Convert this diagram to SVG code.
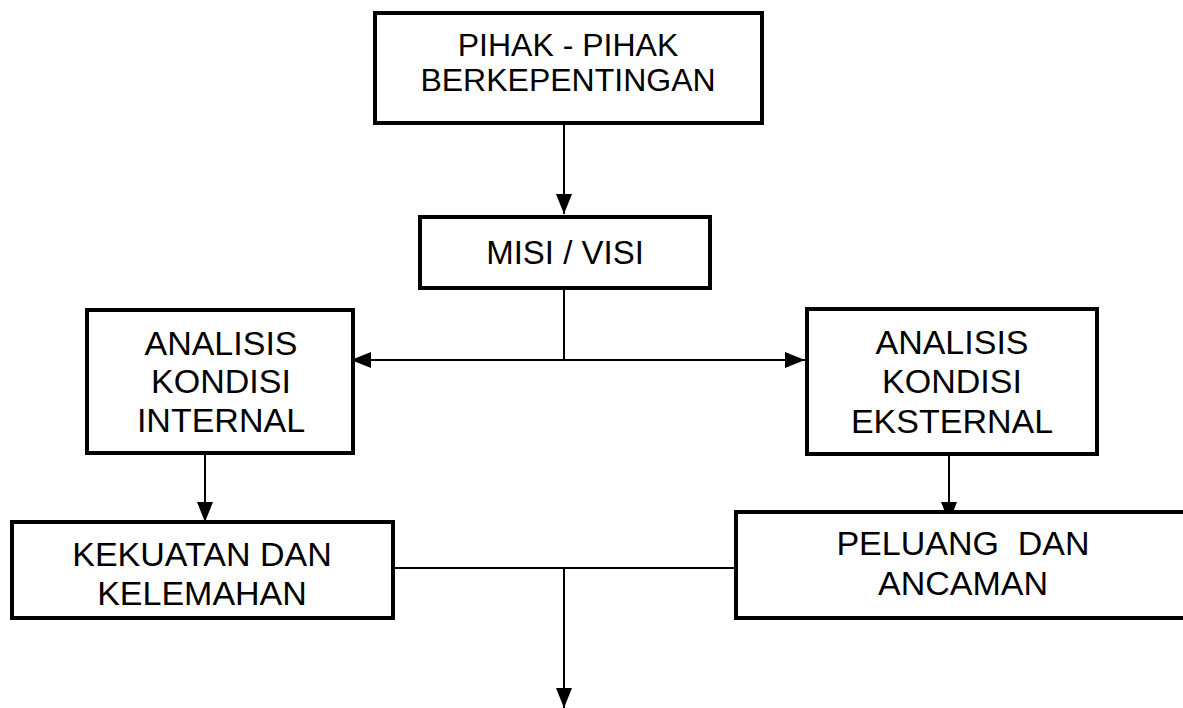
<svg xmlns="http://www.w3.org/2000/svg" width="1183" height="708" viewBox="0 0 1183 708">
<defs>
<style>
.box{fill:#fff;stroke:#000;stroke-width:4}
.t{font-family:"Liberation Sans",Arial,sans-serif;font-size:34px;fill:#000;text-anchor:middle}
.t32{font-size:32px}
.t33{font-size:33px}
.c{stroke:#000;stroke-width:2;fill:none}
</style>
<marker id="ah" viewBox="0 0 20 16" refX="20" refY="8" markerWidth="20" markerHeight="16" markerUnits="userSpaceOnUse" orient="auto">
<path d="M0,0 L20,8 L0,16 Z" fill="#000"/>
</marker>
</defs>
<rect width="1183" height="708" fill="#fff"/>
<g id="connectors">
<line class="c" x1="564" y1="123" x2="564" y2="214" marker-end="url(#ah)"/>
<line class="c" x1="564" y1="290" x2="564" y2="360"/>
<line class="c" x1="564" y1="360" x2="351" y2="360" marker-end="url(#ah)"/>
<line class="c" x1="564" y1="360" x2="805" y2="360" marker-end="url(#ah)"/>
<line class="c" x1="205" y1="453" x2="205" y2="522" marker-end="url(#ah)"/>
<line class="c" x1="949" y1="454" x2="949" y2="522" marker-end="url(#ah)"/>
<line class="c" x1="395" y1="568" x2="735" y2="568"/>
<line class="c" x1="564" y1="568" x2="564" y2="708" marker-end="url(#ah)"/>
</g>
<g id="pihak">
<rect class="box" x="375" y="13" width="387" height="110"/>
<text class="t t32" x="568" y="56">PIHAK - PIHAK</text>
<text class="t t32" x="568" y="91">BERKEPENTINGAN</text>
</g>
<g id="misi">
<rect class="box" x="420" y="217" width="290" height="71"/>
<text class="t t33" x="565" y="264">MISI / VISI</text>
</g>
<g id="internal">
<rect class="box" x="87" y="310" width="266" height="143"/>
<text class="t" x="221" y="355">ANALISIS</text>
<text class="t" x="221" y="393">KONDISI</text>
<text class="t" x="221" y="432">INTERNAL</text>
</g>
<g id="eksternal">
<rect class="box" x="807" y="309" width="290" height="145"/>
<text class="t" x="952" y="354">ANALISIS</text>
<text class="t" x="952" y="393">KONDISI</text>
<text class="t" x="952" y="433">EKSTERNAL</text>
</g>
<g id="kekuatan">
<rect class="box" x="12" y="522" width="381" height="96"/>
<text class="t" x="202" y="566">KEKUATAN DAN</text>
<text class="t" x="202" y="605">KELEMAHAN</text>
</g>
<g id="peluang">
<rect class="box" x="736" y="512" width="470" height="106"/>
<text class="t" x="963" y="555" xml:space="preserve">PELUANG  DAN</text>
<text class="t" x="963" y="595">ANCAMAN</text>
</g>
</svg>
